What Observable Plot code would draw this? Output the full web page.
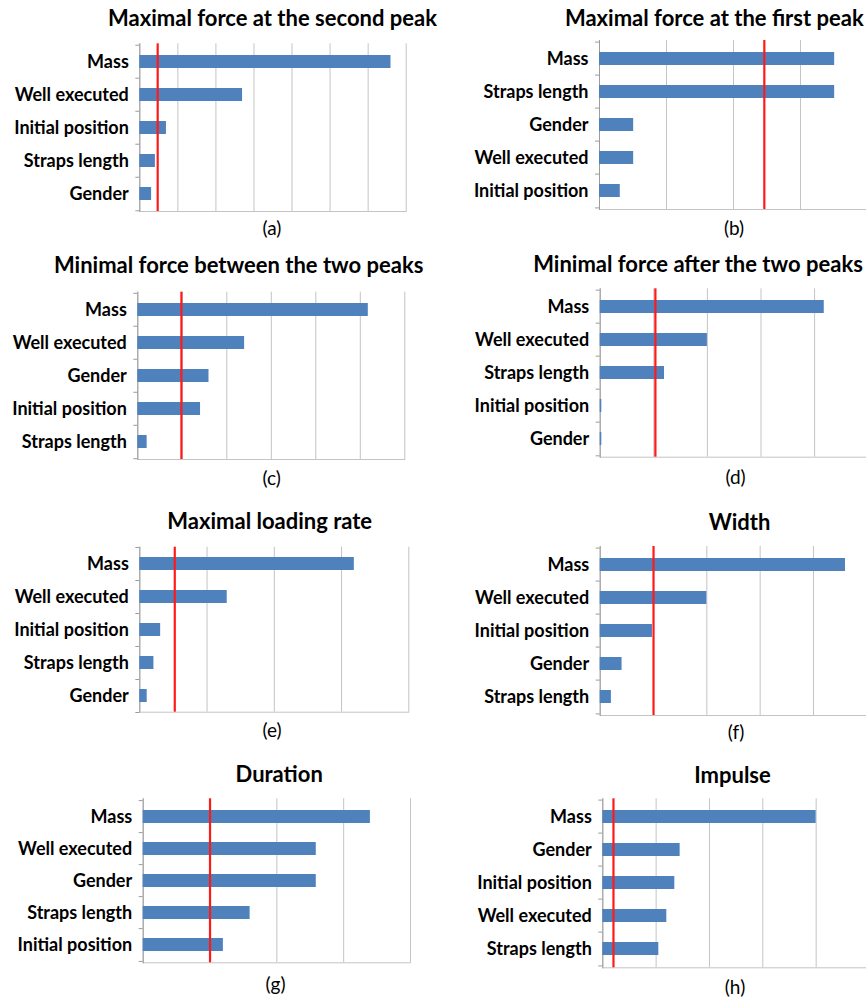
<!DOCTYPE html>
<html><head><meta charset="utf-8">
<script src="https://cdn.jsdelivr.net/npm/d3@7"></script>
<script src="https://cdn.jsdelivr.net/npm/@observablehq/plot@0.6"></script>
<style>
html,body{margin:0;padding:0;background:#fff;}
#root{position:relative;width:866px;height:1000px;overflow:hidden;font-family:Lato,"Open Sans",sans-serif;color:#000;}
.title{position:absolute;font-weight:bold;font-size:22px;white-space:nowrap;line-height:1;transform:translateX(-50%);}
.tag{position:absolute;font-size:19px;white-space:nowrap;line-height:1;transform:translateX(-50%);}
.panel{position:absolute;}
</style></head><body><div id="root"></div>
<script>
// ---------- data ----------
const titles = [
  "Maximal force at the second peak",
  "Maximal force at the first peak",
  "Minimal force between the two peaks",
  "Minimal force after the two peaks",
  "Maximal loading rate",
  "Width",
  "Duration",
  "Impulse"
];
const tags = ["(a)", "(b)", "(c)", "(d)", "(e)", "(f)", "(g)", "(h)"];

const catsA = ["Mass", "Well executed", "Initial position", "Straps length", "Gender"];
const valsA = [6.6, 2.7, 0.7, 0.41, 0.31];
const catsB = ["Mass", "Straps length", "Gender", "Well executed", "Initial position"];
const valsB = [3.51, 3.51, 0.51, 0.51, 0.31];
const catsC = ["Mass", "Well executed", "Gender", "Initial position", "Straps length"];
const valsC = [5.18, 2.4, 1.6, 1.41, 0.21];
const catsD = ["Mass", "Well executed", "Straps length", "Initial position", "Gender"];
const valsD = [4.18, 2.0, 1.2, 0.03, 0.03];
const catsE = ["Mass", "Well executed", "Initial position", "Straps length", "Gender"];
const valsE = [3.19, 1.3, 0.31, 0.21, 0.11];
const catsF = ["Mass", "Well executed", "Initial position", "Gender", "Straps length"];
const valsF = [4.6, 2.0, 0.98, 0.41, 0.21];
const catsG = ["Mass", "Well executed", "Gender", "Straps length", "Initial position"];
const valsG = [3.4, 2.59, 2.59, 1.6, 1.2];
const catsH = ["Mass", "Gender", "Initial position", "Well executed", "Straps length"];
const valsH = [4.0, 1.45, 1.35, 1.2, 1.05];

const thresholds = [0.47, 2.46, 0.98, 1.03, 0.52, 1.0, 1.0, 0.2];
const gridMax = [7, 4, 6, 5, 4, 5, 4, 5];

const categories = [catsA, catsB, catsC, catsD, catsE, catsF, catsG, catsH];
const values = [valsA, valsB, valsC, valsD, valsE, valsF, valsG, valsH];

// ---------- layout (page pixels) ----------
const layout = [
  {cx:0,   cy:0,   L:139.3, R:405.7, T:43.3,  B:211,   tx:272.5, ty:26.7,  gx:272,   gy:235},
  {cx:433, cy:0,   L:599,   R:867,   T:40,    B:209,   tx:714.3, ty:26.7,  gx:734,   gy:235},
  {cx:0,   cy:250, L:137.3, R:404.3, T:291.7, B:459,   tx:238.7, ty:274,   gx:271.7, gy:485},
  {cx:433, cy:250, L:599.7, R:867.7, T:288.3, B:456.7, tx:698,   ty:272.7, gx:735.5, gy:484.3},
  {cx:0,   cy:500, L:139.3, R:408.3, T:546.7, B:711.7, tx:269.7, ty:529.3, gx:272,   gy:736.7},
  {cx:433, cy:500, L:599.7, R:866.3, T:546,   B:715,   tx:739.5, ty:530.7, gx:736,   gy:738.7},
  {cx:0,   cy:750, L:142.7, R:410,   T:798.3, B:962.3, tx:279.2, ty:782.3, gx:275.5, gy:991},
  {cx:433, cy:750, L:602.3, R:869,   T:798.3, B:967.3, tx:732.5, ty:783.3, gx:735,   gy:994}
];

const root = document.getElementById("root");
const CELL_W = 445, CELL_H = 250;
const TITLE_FS = 22, TAG_FS = 19, LABEL_FS = 18;
const barColor = "#4F81BD", gridColor = "#C4C4C4", axisColor = "#9C9C9C", redColor = "#FF1A1A";

layout.forEach((lay, k) => {
  const cats = categories[k];
  const data = cats.map((c, i) => ({cat: c, v: values[k][i]}));
  const plotH = lay.B - lay.T;
  const step = plotH / 5;
  const chart = Plot.plot({
    width: CELL_W, height: CELL_H,
    marginLeft: lay.L - lay.cx,
    marginRight: lay.cx + CELL_W - lay.R,
    marginTop: lay.T - lay.cy,
    marginBottom: lay.cy + CELL_H - lay.B,
    x: {domain: [0, gridMax[k]], axis: null},
    y: {domain: cats, paddingInner: 0.6, paddingOuter: 0.3},
    style: {fontFamily: "Lato, 'Open Sans', sans-serif", fontSize: LABEL_FS + "px", fontWeight: "bold", color: "#000", background: "transparent", overflow: "visible"},
    marks: [
      Plot.gridX(d3.range(0, gridMax[k] + 1), {stroke: gridColor, strokeOpacity: 1}),
      Plot.frame({anchor: "bottom", stroke: gridColor, strokeOpacity: 1}),
      Plot.frame({anchor: "left", stroke: axisColor, strokeOpacity: 1}),
      Plot.ruleY(cats, {y: d => d, dy: -step / 2, x1: 0, x2: 0, insetLeft: -4, stroke: axisColor}),
      Plot.ruleY(cats.slice(-1), {y: d => d, dy: step / 2, x1: 0, x2: 0, insetLeft: -4, stroke: axisColor}),
      Plot.axisY({tickSize: 0, tickPadding: 11, label: null, fill: "#000", fontSize: LABEL_FS, fontWeight: "bold"}),
      Plot.barX(data, {x: "v", y: "cat", fill: barColor}),
      Plot.ruleX([thresholds[k]], {stroke: redColor, strokeWidth: 2.2})
    ]
  });
  chart.classList.add("panel");
  chart.style.left = lay.cx + "px";
  chart.style.top = lay.cy + "px";
  root.appendChild(chart);

  const t = document.createElement("div");
  t.className = "title";
  t.textContent = titles[k];
  t.style.left = lay.tx + "px";
  t.style.top = (lay.ty - 0.887 * TITLE_FS) + "px";
  root.appendChild(t);

  const g = document.createElement("div");
  g.className = "tag";
  g.textContent = tags[k];
  g.style.left = lay.gx + "px";
  g.style.top = (lay.gy - 0.887 * TAG_FS) + "px";
  root.appendChild(g);
});
</script>
</body></html>
